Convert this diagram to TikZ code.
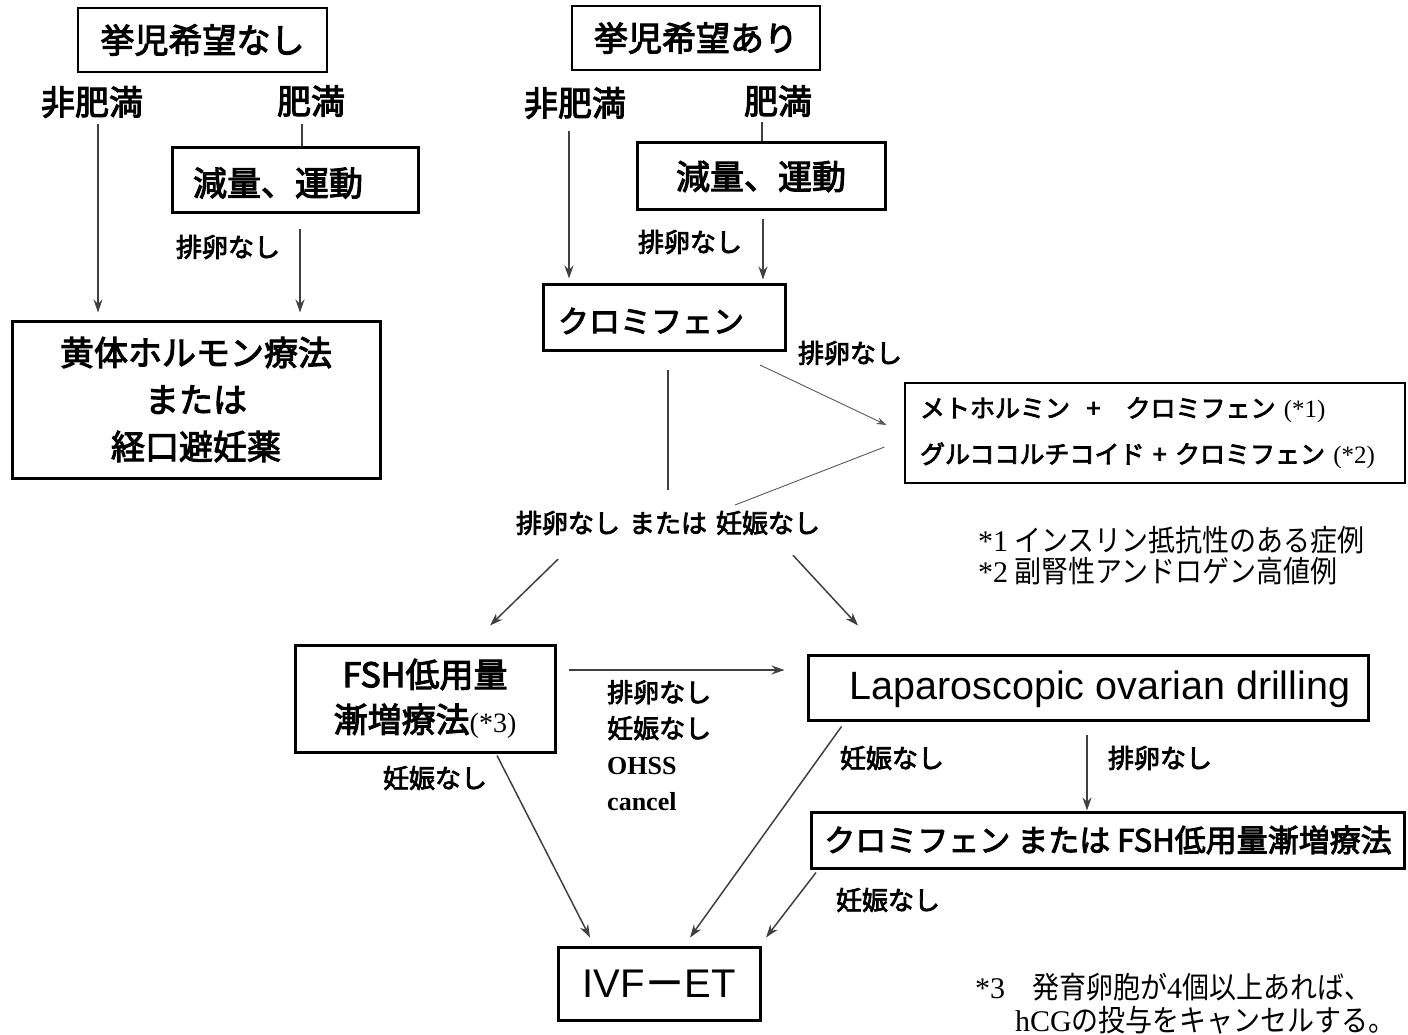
\documentclass[tikz,border=0pt]{standalone}
\usepackage{fontspec}
\usetikzlibrary{arrows.meta}
\newfontfamily\jb{Noto Sans CJK JP}[FakeBold=3]
\newfontfamily\jr{Noto Sans CJK JP}[FakeStretch=0.9]
\newfontfamily\tms{Liberation Serif}
\newfontfamily\ari{Liberation Sans}
\newcommand\fsz[2]{\fontsize{#1}{#2}\selectfont}
\tikzset{
  bx/.style={draw, line width=3pt, inner sep=0pt, font={\jb\fsz{34}{40}}},
  tbx/.style={draw, line width=1.4pt, inner sep=0pt},
  big/.style={inner sep=0pt, font={\jb\fsz{34}{40}}},
  sml/.style={inner sep=0pt, font={\jb\fsz{26}{30}}},
  note/.style={inner sep=0pt, anchor=west, font={\jr\fsz{30}{34}}},
  arr/.style={draw=black!75, line width=1.5pt, -{Stealth[length=13pt,width=9pt]}},
  arrthin/.style={draw=black!65, line width=0.9pt, -{Stealth[length=10pt,width=7pt]}},
  ln/.style={draw=black!75, line width=1.5pt},
  lnthin/.style={draw=black!65, line width=0.9pt},
}
\begin{document}
\begin{tikzpicture}[x=1pt,y=1pt]
\useasboundingbox (0,0) rectangle (1408,-1035);
% ---------- left branch ----------
\node[tbx, minimum width=249pt, minimum height=64pt, font={\jb\fsz{34}{40}}] (n1) at (202.5,-40) {挙児希望なし};
\node[big] (a1) at (92,-102) {非肥満};
\node[big] (b1) at (311,-101) {肥満};
\node[bx, minimum width=246pt, minimum height=65pt] (w1) at (295,-180.5) {};
\node[big] (w1t) at (278,-183) {減量、運動};
\node[sml] (e1) at (228,-247) {排卵なし};
\node[bx, minimum width=368pt, minimum height=157pt, align=center, font={\jb\fsz{34}{47}}] (h1) at (196,-399.5) {黄体ホルモン療法\\または\\経口避妊薬};
\coordinate (b1s) at (302,-124);
\draw[ln] (b1s) -- (b1s |- w1.north);
\draw[arr, shorten >=7pt] ([xshift=6pt,yshift=-6pt]a1.south) -- ([xshift=6pt]a1.south |- h1.north);
\draw[arr, shorten >=7pt] ([xshift=5pt,yshift=-15pt]w1.south) -- ([xshift=5pt]w1.south |- h1.north);
% ---------- right branch ----------
\node[tbx, minimum width=248pt, minimum height=64pt, font={\jb\fsz{34}{40}}] (n2) at (696,-38) {挙児希望あり};
\node[big] (a2) at (575,-103) {非肥満};
\node[big] (b2) at (778,-101) {肥満};
\node[bx, minimum width=248pt, minimum height=67pt] (w2) at (761,-176.5) {減量、運動};
\node[sml] (e2) at (690,-242) {排卵なし};
\node[bx, minimum width=242pt, minimum height=66pt] (c2) at (664,-317) {};
\node[inner sep=0pt, font={\jb\fsz{31}{36}}] (c2t) at (651,-321) {クロミフェン};
\coordinate (b2s) at (762,-122);
\draw[ln] (b2s) -- (b2s |- w2.north);
\draw[arr, shorten >=4pt] ([xshift=-6pt,yshift=-12pt]a2.south) -- ([xshift=-6pt]a2.south |- c2.north);
\draw[arr, shorten >=3pt] ([xshift=2pt,yshift=-8pt]w2.south) -- ([xshift=2pt]w2.south |- c2.north);
\node[sml] (e3) at (850,-353) {排卵なし};
\node[tbx, line width=1.1pt, minimum width=500pt, minimum height=100pt, text width=470pt, align=left, font={\jb\fsz{25}{46}}] (m) at (1155,-433)
  {メトホルミン\enspace\,+\enspace\, クロミフェン {\tms (*1)}\\グルココルチコイド + クロミフェン {\tms (*2)}};
\coordinate (d1) at (760,-365);
\coordinate (d2) at (735,-505);
\draw[arrthin] (d1) -- ([xshift=-18pt,yshift=8pt]m.west);
\draw[lnthin] ([xshift=-20pt,yshift=-14pt]m.west) -- (d2);
\node[sml] (t) at (668,-523) {排卵なし\hspace{9pt}または\hspace{9pt}妊娠なし};
\coordinate (cv) at (668,-370);
\draw[ln] (cv) -- (cv |- 0,-490);
\node[note] (fn1) at (978,-540) {{\tms *1} インスリン抵抗性のある症例};
\node[note] (fn2) at (978,-571) {{\tms *2} 副腎性アンドロゲン高値例};
% ---------- lower part ----------
\node[bx, minimum width=260pt, minimum height=107pt, align=center, font={\jb\fsz{34}{45}}] (f) at (425,-698.5) {FSH低用量\\漸増療法{\tms\fsz{28}{30}(*3)}};
\node[bx, minimum width=560pt, minimum height=65pt] (L) at (1088,-687.5) {};
\node[inner sep=0pt, font={\ari\fsz{39.5}{42}}] (Lt) at (1100,-689) {Laparoscopic ovarian drilling};
\draw[arr] ([xshift=-110pt,yshift=-24pt]t.south) -- ([xshift=65pt,yshift=18pt]f.north);
\draw[arr] ([xshift=125pt,yshift=-20pt]t.south) -- ([xshift=-230pt,yshift=28pt]L.north);
\draw[arr, shorten <=12pt, shorten >=22pt] (f.east |- 0,-670) -- (L.west |- 0,-670);
\node[inner sep=0pt, anchor=north west, align=left, font={\jb\fsz{26}{36}}] (g) at (607,-680)
  {排卵なし\\妊娠なし\\{\tms\bfseries OHSS}\\{\tms\bfseries cancel}};
\node[sml] (p1) at (435,-778) {妊娠なし};
\node[sml] (p2) at (892,-758) {妊娠なし};
\node[sml] (e4) at (1160,-758) {排卵なし};
\node[bx, minimum width=593pt, minimum height=56pt, font={\jb\fsz{31}{34}}] (cf) at (1108,-840) {クロミフェン または FSH低用量漸増療法};
\node[sml] (p3) at (888,-900) {妊娠なし};
\node[bx, minimum width=202pt, minimum height=73pt, font={\ari\fsz{40}{44}}] (ivf) at (659,-983.5) {IVF{\jb －}ET};
\coordinate (ls) at (1087,-735);
\draw[arr] (ls) -- (ls |- cf.north) ;
\draw[arr] ([xshift=72pt,yshift=-2pt]f.south) -- ([xshift=-69pt,yshift=8pt]ivf.north);
\draw[arr] ([xshift=35pt,yshift=-5pt]L.south west) -- ([xshift=31pt,yshift=8pt]ivf.north);
\draw[arr] ([xshift=6pt,yshift=-3pt]cf.south west) -- ([xshift=107pt,yshift=8pt]ivf.north);
\node[note] (fn3) at (975,-987) {{\tms *3}　発育卵胞が{\tms 4}個以上あれば、};
\node[note] (fn4) at (1015,-1020) {{\tms hCG}の投与をキャンセルする。};
\end{tikzpicture}
\end{document}
